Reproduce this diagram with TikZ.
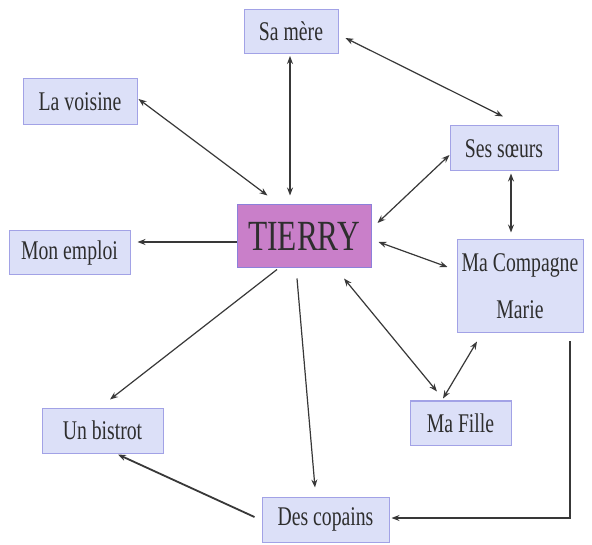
\documentclass[tikz,border=0pt]{standalone}
\usepackage{fontspec}
\newfontfamily\boxfont[FakeStretch=0.73]{Liberation Serif}
\usetikzlibrary{calc,arrows.meta}
\definecolor{boxfill}{HTML}{DCE0F8}
\definecolor{boxline}{HTML}{A2A2E6}
\definecolor{tfill}{HTML}{C97FC9}
\definecolor{tline}{HTML}{8C80DA}
\definecolor{ink}{HTML}{2E2E2E}
\definecolor{arr}{HTML}{383838}
\begin{document}
\begin{tikzpicture}[x=1pt,y=-1pt,
  person/.style={draw=boxline,fill=boxfill,line width=1pt,inner sep=0pt,
    text=ink,font=\boxfont\fontsize{27}{47}\selectfont,align=center},
  central/.style={draw=tline,fill=tfill,line width=1pt,inner sep=0pt,
    text=ink,font=\boxfont\fontsize{43}{50}\selectfont},
  link/.style={draw=arr,line width=1.2pt,{Stealth[length=8pt,width=6pt]}-{Stealth[length=8pt,width=6pt]}},
  oneway/.style={draw=arr,line width=1.2pt,-{Stealth[length=8pt,width=6pt]}},
  strong/.style={line width=1.8pt}]
\useasboundingbox (0,0) rectangle (592,545);
\fill[white] (0,0) rectangle (592,545);

\node[person,minimum width=94pt,minimum height=44pt] (samere) at (291,31.5) {Sa mère};
\node[person,minimum width=114pt,minimum height=46pt] (voisine) at (80,102) {La voisine};
\node[person,minimum width=108pt,minimum height=45pt] (soeurs) at (504,148.5) {Ses sœurs};
\node[central,minimum width=134pt,minimum height=63pt] (tierry) at (304,236.5) {TIERRY};
\node[person,minimum width=121pt,minimum height=44pt] (emploi) at (69.5,253) {Mon emploi};
\node[person,minimum width=126pt,minimum height=93pt] (comp) at (520,286.5) {Ma Compagne\\Marie};
\node[person,minimum width=121pt,minimum height=45pt] (bistrot) at (102.5,430.5) {Un bistrot};
\node[person,minimum width=101pt,minimum height=44pt] (fille) at (460.5,423) {Ma Fille};
\node[person,minimum width=127pt,minimum height=45pt] (copains) at (325.5,519.5) {Des copains};

\draw[link,strong] ($(samere.south)+(-1,2)$) -- ($(tierry.north)+(-14,-9)$);
\draw[link] ($(voisine.east)+(1,-3)$) -- ($(tierry.north west)+(31,-9)$);
\draw[link] ($(samere.east)+(7,6.5)$) -- ($(soeurs.north)+(-1,-9)$);
\draw[link] ($(soeurs.west)+(0,6.5)$) -- ($(tierry.east)+(6,-13.5)$);
\draw[link,strong] ($(soeurs.south)+(7,2)$) -- ($(comp.north)+(-9,-7)$);
\draw[link] ($(tierry.east)+(7,5.5)$) -- ($(comp.west)+(-9,-19.5)$);
\draw[oneway,strong] ($(tierry.west)+(0,5.5)$) -- ($(emploi.east)+(7,-11)$);
\draw[link] ($(tierry.south)+(40,10)$) -- ($(fille.north)+(-23.5,-9)$);
\draw[link] ($(fille.north)+(-17.5,-2)$) -- ($(comp.south)+(-43,8)$);
\draw[oneway] ($(tierry.south)+(-27,1)$) -- ($(bistrot.north)+(7.5,-8)$);
\draw[oneway] ($(tierry.south)+(-7,10)$) -- ($(copains.north)+(-10.5,-9)$);
\draw[oneway,strong] ($(copains.west)+(-7,-2.5)$) -- ($(bistrot.south)+(15.5,1)$);
\draw[oneway,strong] ($(comp.south)+(50,8)$) |- ($(copains.east)+(2,-1.5)$);
\end{tikzpicture}
\end{document}
